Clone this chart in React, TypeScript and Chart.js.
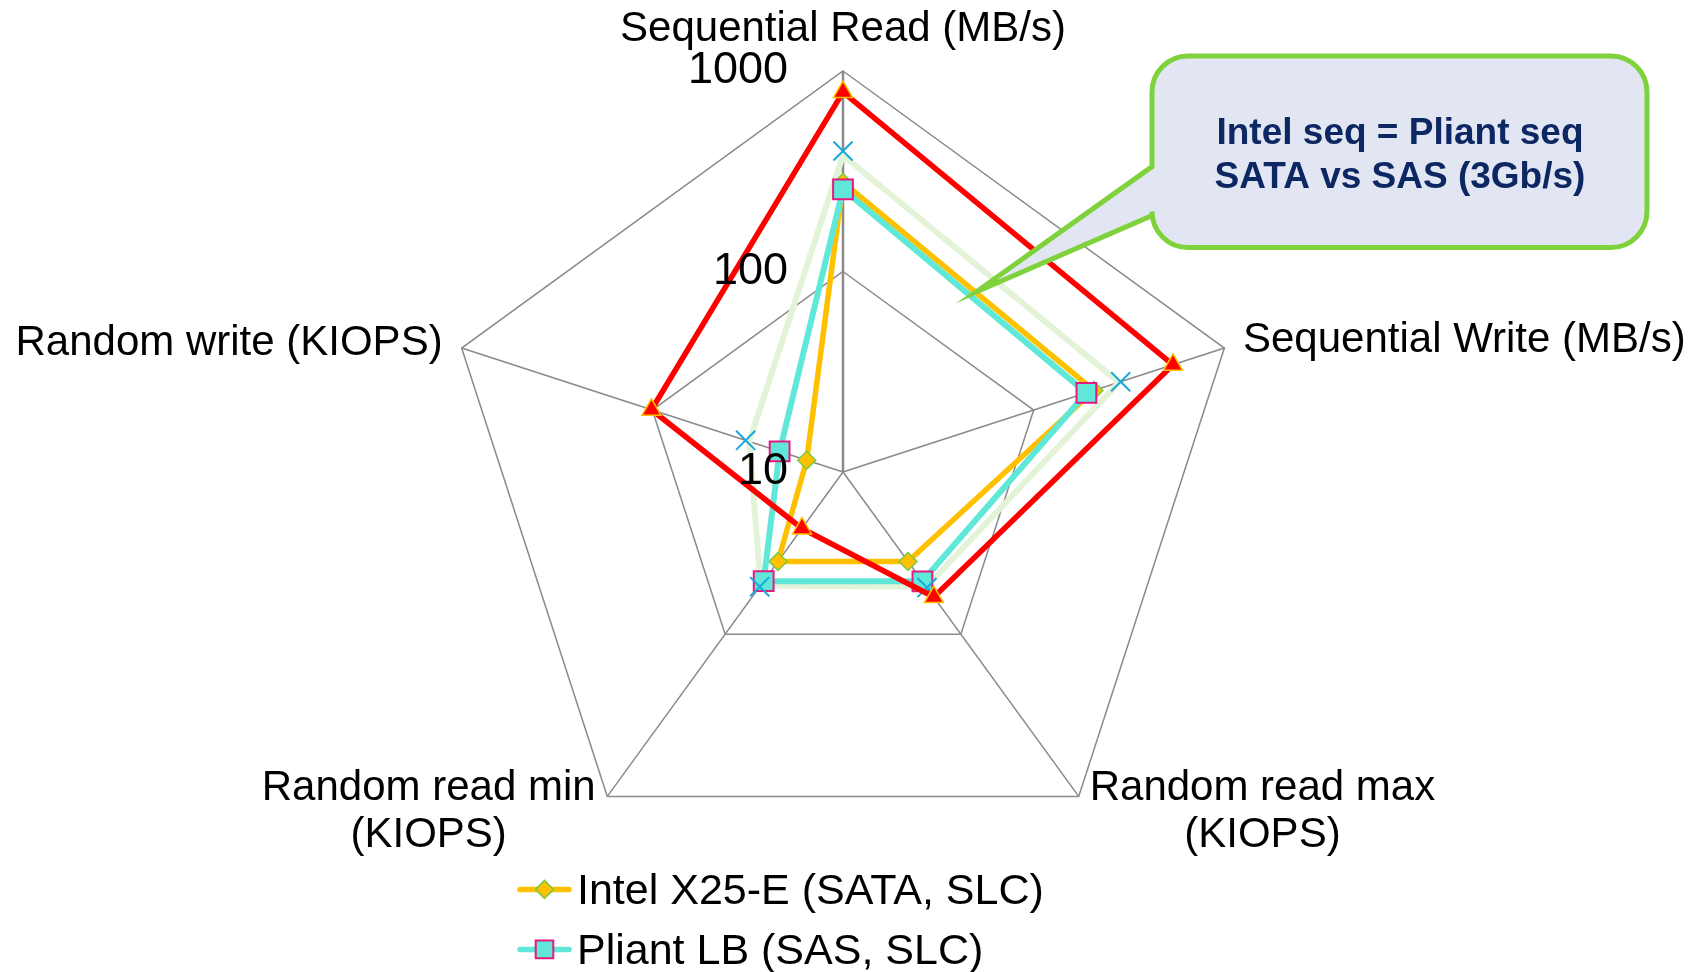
import React, { useEffect, useRef } from "react";
import { Chart, registerables } from "chart.js";

Chart.register(...registerables);

// ---------- data ----------
const categories: string[][] = [
  ["Sequential Read (MB/s)"],
  ["Sequential Write (MB/s)"],
  ["Random read max", "(KIOPS)"],
  ["Random read min", "(KIOPS)"],
  ["Random write (KIOPS)"],
];
const tickValues = [10, 100, 1000];
const tickLabels = ["10", "100", "1000"];

const intelName = "Intel X25-E (SATA, SLC)";
const pliantName = "Pliant LB (SAS, SLC)";
const redName = "Series 3";
const crossName = "Series 4";
const paleName = "Series 5";

const intelValues = [278, 207, 35.6, 35.6, 15.5];
const pliantValues = [257, 189, 47.2, 47.1, 21.5];
const redValues = [785, 538, 59, 22.3, 101];
const crossValues = [399, 286, 51.6, 50.9, 32.4];
const paleValues = [380, 280, 51, 50, 31];

const calloutLines = ["Intel seq = Pliant seq", "SATA vs SAS (3Gb/s)"];

// ---------- styles ----------
const FONT = '"Liberation Sans", Arial, Helvetica, sans-serif';
const GRID = "#8a8a8a";

const intelStyle = { line: "#ffc000", fill: "#ffc000", border: "#7ac943", pointStyle: "rectRot", radius: 9, borderWidth: 1.5, lineWidth: 5.5 };
const pliantStyle = { line: "#5fe8d8", fill: "#5fe8d8", border: "#e6197f", pointStyle: "rect", radius: 14, borderWidth: 2, lineWidth: 6 };

const labelLayout = [
  { align: "center", dx: 0, dy: -30 },
  { align: "left", dx: 18.6, dy: 4 },
  { align: "left", dx: 11, dy: 4 },
  { align: "right", dx: 11.7, dy: 4 },
  { align: "right", dx: 19, dy: 7 },
];

const toLog = (arr: number[]) => arr.map((v) => Math.log10(v));

function drawMarker(ctx: CanvasRenderingContext2D, st: any, x: number, y: number, r: number) {
  ctx.save();
  ctx.beginPath();
  if (st.pointStyle === "rectRot") {
    ctx.moveTo(x - r, y);
    ctx.lineTo(x, y - r);
    ctx.lineTo(x + r, y);
    ctx.lineTo(x, y + r);
    ctx.closePath();
  } else {
    ctx.rect(x - r, y - r, 2 * r, 2 * r);
  }
  ctx.fillStyle = st.fill;
  ctx.fill();
  ctx.lineWidth = st.borderWidth;
  ctx.strokeStyle = st.border;
  ctx.stroke();
  ctx.restore();
}

const overlayPlugin = {
  id: "overlay",
  beforeDatasetsDraw(chart: any) {
    const s = chart.scales.r;
    const ctx: CanvasRenderingContext2D = chart.ctx;
    ctx.save();
    ctx.fillStyle = "#000";
    ctx.font = `42px ${FONT}`;
    ctx.textBaseline = "alphabetic";
    ctx.textAlign = "center";
    categories.forEach((lines, i) => {
      const p = s.getPointPosition(i, s.drawingArea);
      const lay = labelLayout[i];
      const w = Math.max(...lines.map((l) => ctx.measureText(l).width));
      let left: number;
      if (lay.align === "center") left = p.x - w / 2;
      else if (lay.align === "left") left = p.x + lay.dx;
      else left = p.x - lay.dx - w;
      lines.forEach((l, j) => {
        ctx.fillText(l, left + w / 2, p.y + lay.dy + j * 46.7);
      });
    });
    ctx.restore();
  },
  afterDatasetsDraw(chart: any) {
    const s = chart.scales.r;
    const ctx: CanvasRenderingContext2D = chart.ctx;
    ctx.save();
    ctx.font = `45px ${FONT}`;
    ctx.fillStyle = "#000";
    ctx.textAlign = "right";
    ctx.textBaseline = "middle";
    tickValues.forEach((v, i) => {
      const d = s.getDistanceFromCenterForValue(Math.log10(v));
      ctx.fillText(tickLabels[i], s.xCenter - 55, s.yCenter - d);
    });
    ctx.restore();
  },
  afterDraw(chart: any) {
    const ctx: CanvasRenderingContext2D = chart.ctx;
    // legend (only the visible part)
    const legendItems = [
      { name: intelName, st: intelStyle, mr: 9 },
      { name: pliantName, st: pliantStyle, mr: 8.8 },
    ];
    legendItems.forEach((it, i) => {
      const y = 889.4 + i * 60;
      ctx.save();
      ctx.strokeStyle = it.st.line;
      ctx.lineWidth = 5.5;
      ctx.lineCap = "round";
      ctx.beginPath();
      ctx.moveTo(520, y);
      ctx.lineTo(569, y);
      ctx.stroke();
      ctx.restore();
      drawMarker(ctx, it.st, 544.5, y, it.mr);
      ctx.save();
      ctx.font = `43px ${FONT}`;
      ctx.fillStyle = "#000";
      ctx.textAlign = "left";
      ctx.textBaseline = "alphabetic";
      ctx.fillText(it.name, 577, y + 15);
      ctx.restore();
    });

    // callout
    const x0 = 1152, y0 = 56, x1 = 1647, y1 = 247.5, r = 36;
    const tipX = 976.5, tipY = 291.7, tailTop = 166.6, tailBot = 215.5;
    ctx.save();
    ctx.beginPath();
    ctx.moveTo(x0 + r, y0);
    ctx.lineTo(x1 - r, y0);
    ctx.arcTo(x1, y0, x1, y0 + r, r);
    ctx.lineTo(x1, y1 - r);
    ctx.arcTo(x1, y1, x1 - r, y1, r);
    ctx.lineTo(x0 + r, y1);
    ctx.arcTo(x0, y1, x0, y1 - r, r);
    ctx.lineTo(x0, tailBot);
    ctx.lineTo(tipX, tipY);
    ctx.lineTo(x0, tailTop);
    ctx.lineTo(x0, y0 + r);
    ctx.arcTo(x0, y0, x0 + r, y0, r);
    ctx.closePath();
    ctx.fillStyle = "#e2e6f3";
    ctx.fill();
    ctx.lineWidth = 5;
    ctx.strokeStyle = "#7fd23c";
    ctx.lineJoin = "miter";
    ctx.miterLimit = 14;
    ctx.stroke();
    ctx.fillStyle = "#0d2762";
    ctx.font = `bold 37px ${FONT}`;
    ctx.textAlign = "center";
    ctx.textBaseline = "alphabetic";
    calloutLines.forEach((l, i) => {
      ctx.fillText(l, 1400, 144 + i * 44);
    });
    ctx.restore();
  },
};

export default function App() {
  const canvasRef = useRef<HTMLCanvasElement | null>(null);

  useEffect(() => {
    if (!canvasRef.current) return;
    const labels = categories.map((c) => c.join(" "));
    const chart = new Chart(canvasRef.current, {
      type: "radar",
      data: {
        labels,
        datasets: [
          {
            label: redName,
            data: toLog(redValues),
            borderColor: "#ff0000",
            borderWidth: 5.5,
            borderJoinStyle: "round",
            fill: false,
            pointStyle: "triangle",
            pointRadius: 11,
            pointBackgroundColor: "#ff0000",
            pointBorderColor: "#ffc000",
            pointBorderWidth: 1.5,
          },
          {
            label: crossName,
            data: toLog(crossValues),
            showLine: false,
            fill: false,
            borderColor: "#1aa7de",
            pointStyle: "crossRot",
            pointRadius: 13.5,
            pointBorderColor: "#1aa7de",
            pointBackgroundColor: "#1aa7de",
            pointBorderWidth: 2,
          },
          {
            label: pliantName,
            data: toLog(pliantValues),
            borderColor: pliantStyle.line,
            borderWidth: pliantStyle.lineWidth,
            borderJoinStyle: "round",
            fill: false,
            pointStyle: "rect",
            pointRadius: pliantStyle.radius,
            pointBackgroundColor: pliantStyle.fill,
            pointBorderColor: pliantStyle.border,
            pointBorderWidth: pliantStyle.borderWidth,
          },
          {
            label: intelName,
            data: toLog(intelValues),
            borderColor: intelStyle.line,
            borderWidth: intelStyle.lineWidth,
            borderJoinStyle: "round",
            fill: false,
            pointStyle: "rectRot",
            pointRadius: intelStyle.radius,
            pointBackgroundColor: intelStyle.fill,
            pointBorderColor: intelStyle.border,
            pointBorderWidth: intelStyle.borderWidth,
          },
          {
            label: paleName,
            data: toLog(paleValues),
            borderColor: "#e2f3d8",
            borderWidth: 6,
            borderJoinStyle: "round",
            fill: false,
            pointRadius: 0,
          },
        ] as any,
      },
      options: {
        responsive: true,
        maintainAspectRatio: false,
        animation: false,
        events: [],
        layout: { padding: 0 },
        plugins: {
          legend: { display: false },
          tooltip: { enabled: false },
          title: { display: false },
        },
        elements: { line: { tension: 0 } },
        scales: {
          r: {
            type: "radialLinear",
            min: 1,
            max: 3,
            ticks: { display: false, stepSize: 1 },
            grid: { circular: false, color: GRID, lineWidth: 1.5 },
            angleLines: {
              display: true,
              color: GRID,
              lineWidth: (c: any) => (c.index === 0 ? 2.5 : 1.5),
            },
            pointLabels: { display: false },
            afterFit: (scale: any) => {
              scale.xCenter = 843;
              scale.yCenter = 472;
              scale.drawingArea = 401;
            },
          } as any,
        },
      } as any,
      plugins: [overlayPlugin],
    });
    return () => chart.destroy();
  }, []);

  return (
    <div style={{ position: "fixed", left: 0, top: 0, width: "100vw", height: "100vh", background: "#fff" }}>
      <canvas ref={canvasRef} />
    </div>
  );
}
